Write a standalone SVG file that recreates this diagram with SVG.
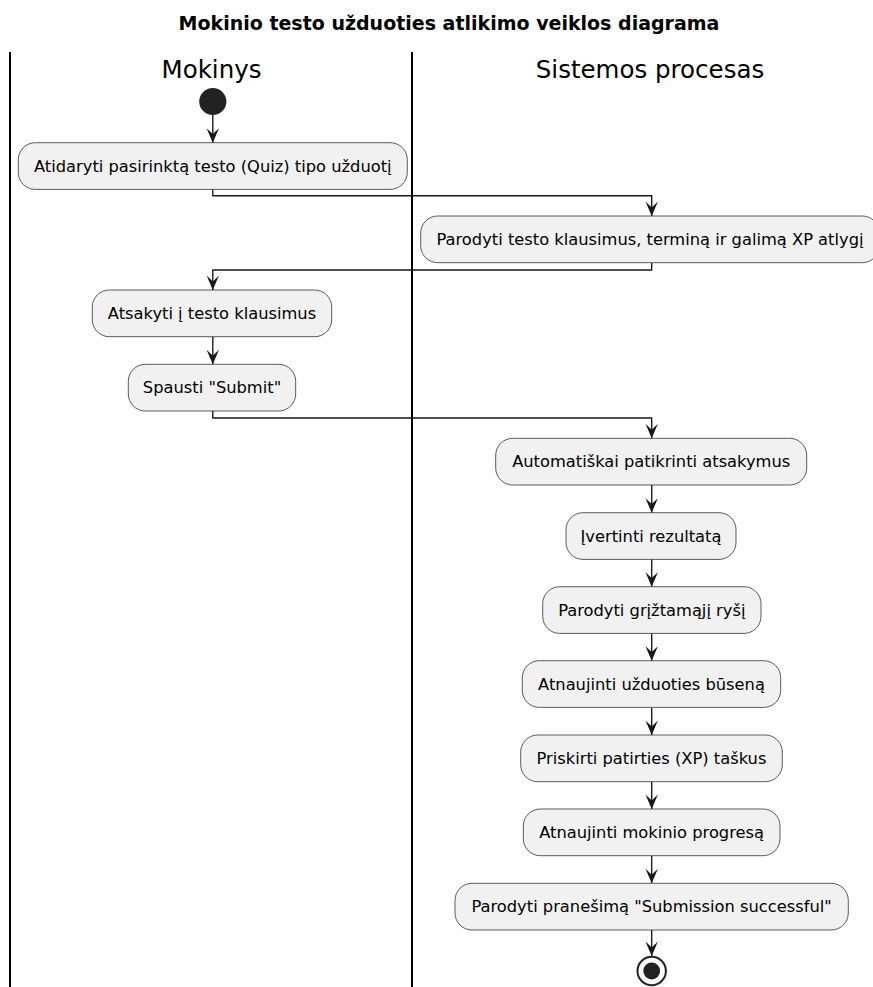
<svg xmlns="http://www.w3.org/2000/svg" width="873" height="987" viewBox="0 0 873 987">
  <style>
    .title { font-family: "DejaVu Sans", sans-serif; font-size: 19px; font-weight: bold; fill: #000; }
    .lane-title { font-family: "DejaVu Sans", sans-serif; font-size: 24.5px; fill: #000; }
    .lane-line { stroke: #000; stroke-width: 2; }
    .act rect { fill: #F1F1F1; stroke: #181818; stroke-width: 0.7; }
    .act text { font-family: "DejaVu Sans", sans-serif; font-size: 16.3px; fill: #000; text-anchor: middle; }
    .flow { fill: none; stroke: #181818; stroke-width: 1.36; marker-end: url(#arrow); }
  </style>
  <defs>
    <marker id="arrow" markerUnits="userSpaceOnUse" markerWidth="20" markerHeight="20" refX="0" refY="0" orient="auto" overflow="visible">
      <path d="M0,0 L-14.5,-6.2 L-8.6,0 L-14.5,6.2 Z" fill="#181818"/>
    </marker>
  </defs>
  <rect width="873" height="987" fill="#fff"/>

  <!-- Title -->
  <text class="title" x="449" y="29.5" text-anchor="middle">Mokinio testo užduoties atlikimo veiklos diagrama</text>

  <!-- Swimlanes -->
  <g id="lanes">
    <line class="lane-line" x1="10" y1="52" x2="10" y2="987"/>
    <line class="lane-line" x1="412" y1="52" x2="412" y2="987"/>
    <text class="lane-title" x="211.5" y="78" text-anchor="middle">Mokinys</text>
    <text class="lane-title" x="650" y="78" text-anchor="middle">Sistemos procesas</text>
  </g>

  <!-- Connectors -->
  <g id="connectors">
    <path class="flow" d="M212.8,115 V142.7"/>
    <path class="flow" d="M212.8,189.3 V195.7 H651.7 V216"/>
    <path class="flow" d="M651.7,262.7 V270 H212.8 V290"/>
    <path class="flow" d="M212.8,336.7 V364.3"/>
    <path class="flow" d="M212.8,411 V418 H651.7 V438.3"/>
    <path class="flow" d="M651.7,485 V512.7"/>
    <path class="flow" d="M651.7,559.3 V586.7"/>
    <path class="flow" d="M651.7,633.3 V660.7"/>
    <path class="flow" d="M651.7,707.4 V735"/>
    <path class="flow" d="M651.7,781.7 V809"/>
    <path class="flow" d="M651.7,855.7 V883.3"/>
    <path class="flow" d="M651.7,930 V956"/>
  </g>

  <!-- Start -->
  <g id="start">
    <circle cx="212.8" cy="101.5" r="13.6" fill="#222"/>
  </g>

  <!-- Activities -->
  <g id="n1" class="act">
    <rect x="18.3" y="142.7" width="389" height="46.7" rx="17" ry="17"/>
    <text x="212.8" y="171.6">Atidaryti pasirinktą testo (Quiz) tipo užduotį</text>
  </g>
  <g id="n2" class="act">
    <rect x="420.7" y="216" width="458.6" height="46.7" rx="17" ry="17"/>
    <text x="650" y="244.9">Parodyti testo klausimus, terminą ir galimą XP atlygį</text>
  </g>
  <g id="n3" class="act">
    <rect x="92.3" y="290" width="239.4" height="46.7" rx="17" ry="17"/>
    <text x="212" y="318.9">Atsakyti į testo klausimus</text>
  </g>
  <g id="n4" class="act">
    <rect x="128.3" y="364.3" width="167.4" height="46.7" rx="17" ry="17"/>
    <text x="212" y="393.2">Spausti "Submit"</text>
  </g>
  <g id="n5" class="act">
    <rect x="495.7" y="438.3" width="311" height="46.7" rx="17" ry="17"/>
    <text x="651.2" y="467.2">Automatiškai patikrinti atsakymus</text>
  </g>
  <g id="n6" class="act">
    <rect x="566" y="512.7" width="170" height="46.7" rx="17" ry="17"/>
    <text x="651" y="541.6">Įvertinti rezultatą</text>
  </g>
  <g id="n7" class="act">
    <rect x="542.7" y="586.7" width="218.3" height="46.7" rx="17" ry="17"/>
    <text x="651.8" y="615.6">Parodyti grįžtamąjį ryšį</text>
  </g>
  <g id="n8" class="act">
    <rect x="522.3" y="660.7" width="258.4" height="46.7" rx="17" ry="17"/>
    <text x="651.5" y="689.6">Atnaujinti užduoties būseną</text>
  </g>
  <g id="n9" class="act">
    <rect x="520.7" y="735" width="261.6" height="46.7" rx="17" ry="17"/>
    <text x="651.5" y="763.9">Priskirti patirties (XP) taškus</text>
  </g>
  <g id="n10" class="act">
    <rect x="523.3" y="809" width="256.7" height="46.7" rx="17" ry="17"/>
    <text x="651.6" y="837.9">Atnaujinti mokinio progresą</text>
  </g>
  <g id="n11" class="act">
    <rect x="455" y="883.3" width="393.3" height="46.7" rx="17" ry="17"/>
    <text x="651.6" y="912.2">Parodyti pranešimą "Submission successful"</text>
  </g>

  <!-- End -->
  <g id="end">
    <circle cx="651.7" cy="971" r="14.2" fill="#fff" stroke="#222" stroke-width="2"/>
    <circle cx="651.7" cy="971" r="8.4" fill="#222"/>
  </g>
</svg>
